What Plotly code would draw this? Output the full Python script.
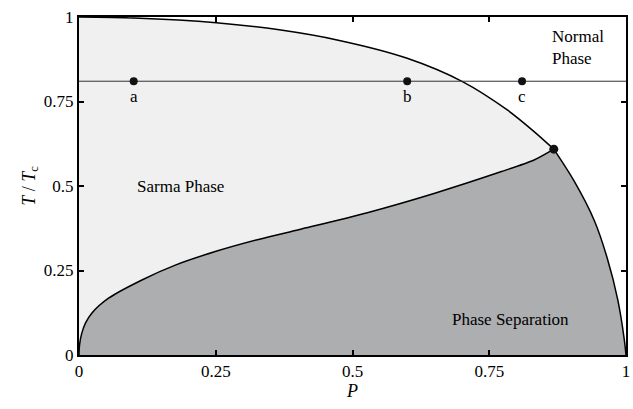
import plotly.graph_objects as go

# Upper phase boundary (normal / superfluid)
upper_x = [0.0, 0.10, 0.251, 0.366, 0.478, 0.600, 0.701, 0.783, 0.832, 0.868]
upper_y = [1.0, 0.997, 0.983, 0.962, 0.930, 0.878, 0.809, 0.725, 0.661, 0.609]

# Right part of upper boundary below the tricritical point
right_x = [0.868, 0.905, 0.942, 0.966, 0.985, 0.997, 1.0]
right_y = [0.609, 0.515, 0.398, 0.285, 0.163, 0.044, 0.0]

# Lower boundary (Sarma / phase separation)
lower_x = [0.0, 0.001, 0.005, 0.012, 0.023, 0.054, 0.115, 0.176, 0.249, 0.328, 0.405, 0.527,
           0.649, 0.771, 0.832, 0.868]
lower_y = [0.0, 0.03, 0.064, 0.095, 0.123, 0.168, 0.222, 0.266, 0.306, 0.342, 0.372, 0.421,
           0.478, 0.542, 0.577, 0.609]

tri_x = [0.868]
tri_y = [0.609]

line_y = 0.81
pts_x = [0.1, 0.6, 0.81]
pts_lab = ["a", "b", "c"]

light = "#eff0ef"
dark = "#adaeb0"
font = "Liberation Serif, Times New Roman, DejaVu Serif, serif"

fig = go.Figure()
# fills (no outline)
fig.add_trace(go.Scatter(x=upper_x + right_x[1:], y=upper_y + right_y[1:], mode="lines",
                         line=dict(width=0, shape="spline", smoothing=0.6),
                         fill="tozeroy", fillcolor=light, hoverinfo="skip"))
fig.add_trace(go.Scatter(x=lower_x + right_x[1:], y=lower_y + right_y[1:], mode="lines",
                         line=dict(width=0),
                         fill="tozeroy", fillcolor=dark, hoverinfo="skip"))
# boundary curves
for cx, cy in ((upper_x, upper_y), (right_x, right_y), (lower_x, lower_y)):
    fig.add_trace(go.Scatter(x=cx, y=cy, mode="lines",
                             line=dict(color="black", width=1.5, shape="spline", smoothing=0.8),
                             hoverinfo="skip"))
fig.add_trace(go.Scatter(x=[0, 1], y=[line_y, line_y], mode="lines",
                         line=dict(color="#333333", width=1), hoverinfo="skip"))
fig.add_trace(go.Scatter(x=pts_x, y=[line_y] * len(pts_x), mode="markers",
                         marker=dict(color="#111111", size=8)))
fig.add_trace(go.Scatter(x=tri_x, y=tri_y, mode="markers", marker=dict(color="#111111", size=9)))

for px, lab in zip(pts_x, pts_lab):
    fig.add_annotation(x=px, y=0.766, text=lab, showarrow=False, font=dict(family=font, size=17, color="black"))

fig.add_annotation(x=0.861, y=0.911, text="Normal<br>Phase", showarrow=False, xanchor="left", align="left",
                   font=dict(family=font, size=17, color="black"))
fig.add_annotation(x=0.185, y=0.5, text="Sarma Phase", showarrow=False, font=dict(family=font, size=17, color="black"))
fig.add_annotation(x=0.789, y=0.104, text="Phase Separation", showarrow=False, font=dict(family=font, size=17, color="black"))

axis_common = dict(showline=True, linecolor="black", linewidth=2, mirror="ticks", ticks="inside", ticklen=5,
                   tickwidth=1.5, tickcolor="black", showgrid=False, zeroline=False, automargin=False,
                   ticklabeloverflow="allow",
                   tickfont=dict(family=font, size=17, color="black"))
fig.update_xaxes(range=[0, 1], tickvals=[0, 0.25, 0.5, 0.75, 1], ticktext=["0", "0.25", "0.5", "0.75", "1"],
                 title=dict(text="<i>P</i>", font=dict(family=font, size=18, color="black"), standoff=4),
                 **axis_common)
fig.update_yaxes(range=[0, 1], tickvals=[0, 0.25, 0.5, 0.75, 1], ticktext=["0", "0.25", "0.5", "0.75", "1"],
                 title=dict(text="<i>T</i> / <i>T</i><sub>c</sub>", font=dict(family=font, size=18, color="black"),
                            standoff=4),
                 **axis_common)
fig.update_layout(width=633, height=409, margin=dict(l=79, r=7, t=17, b=54), showlegend=False,
                  plot_bgcolor="white", paper_bgcolor="white")
fig.write_html("out.html", config={"displayModeBar": False},
               post_script="document.body.style.margin='0';document.body.style.overflow='hidden';")
